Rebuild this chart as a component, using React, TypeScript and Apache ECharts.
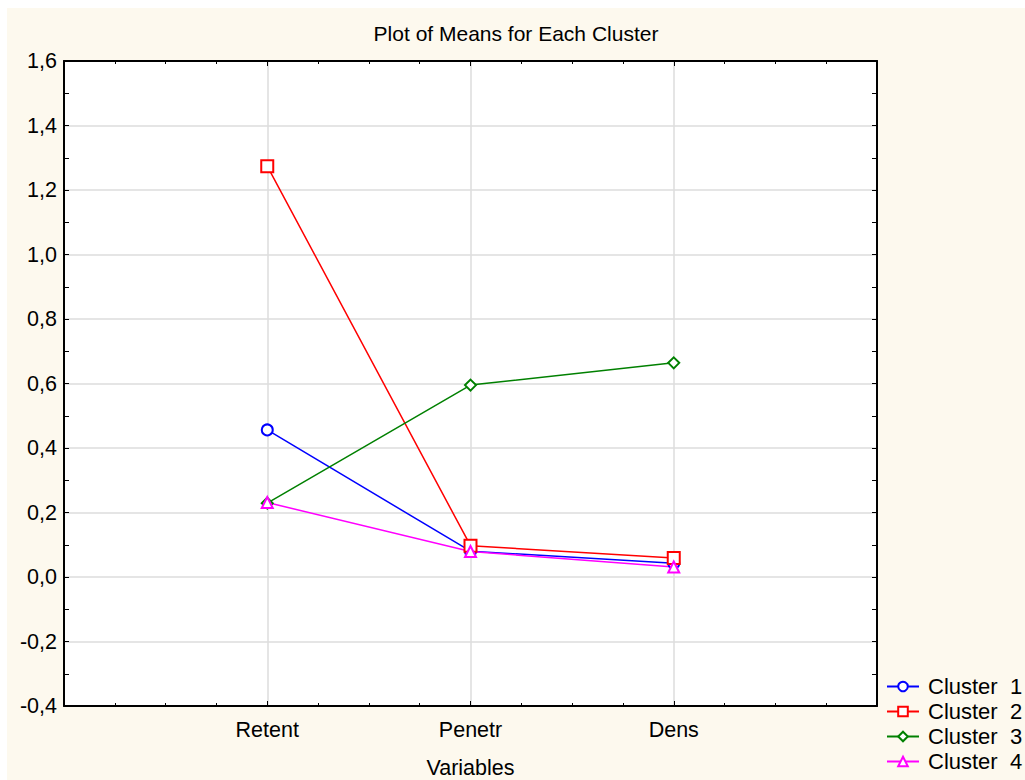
import React, { useEffect, useRef } from "react";
import * as echarts from "echarts";

const variables = ["Retent", "Penetr", "Dens"];
const cluster1 = [0.456, 0.08, 0.043];
const cluster2 = [1.274, 0.097, 0.059];
const cluster3 = [0.229, 0.595, 0.664];
const cluster4 = [0.231, 0.079, 0.031];
const seriesNames = ["Cluster  1", "Cluster  2", "Cluster  3", "Cluster  4"];
const seriesColors = ["#0000ff", "#ff0000", "#008000", "#ff00ff"];
const seriesSymbols = ["emptyCircle", "emptyRect", "emptyDiamond", "emptyTriangle"];
const yMin = -0.4;
const yMax = 1.6;

export default function App() {
  const ref = useRef<HTMLDivElement>(null);
  useEffect(() => {
    if (!ref.current) return;
    const chart = echarts.init(ref.current, null, { renderer: "svg" });
    const font = "'Liberation Sans', Arial, sans-serif";
    const fs = 21.5;
    const allData = [cluster1, cluster2, cluster3, cluster4];
    const fmtY = (v: number) => v.toFixed(1).replace(".", ",");
    const xBase = {
      type: "value" as const,
      min: 0,
      max: variables.length + 1,
      interval: 1,
    };
    const yBase = {
      type: "value" as const,
      min: yMin,
      max: yMax,
      interval: 0.2,
    };
    const line = { show: true, onZero: false, lineStyle: { color: "#000", width: 2 } };
    chart.setOption({
      animation: false,
      backgroundColor: "#fdf9ee",
      title: {
        text: "Plot of Means for Each Cluster",
        left: "center",
        top: 15,
        padding: 0,
        textStyle: { fontFamily: font, fontSize: 21, fontWeight: "normal", color: "#000" },
      },
      grid: {
        left: 57,
        top: 53,
        right: 148,
        bottom: 74,
        outerBoundsMode: "none",
        containLabel: false,
        show: true,
        backgroundColor: "#fff",
        borderWidth: 0,
      },
      legend: {
        orient: "vertical",
        left: 874,
        top: 661,
        padding: 5,
        itemWidth: 32,
        itemHeight: 12,
        itemGap: 0,
        textStyle: { fontFamily: font, fontSize: 22, color: "#000", lineHeight: 25, padding: [0, 0, 0, 4] },
        data: seriesNames,
      },
      xAxis: [
        {
          ...xBase,
          position: "bottom",
          name: "Variables",
          nameLocation: "middle",
          nameGap: 51,
          nameTextStyle: { fontFamily: font, fontSize: fs, color: "#000" },
          axisLine: line,
          axisTick: { show: true, inside: true, length: 5, lineStyle: { color: "#000" } },
          minorTick: { show: true, splitNumber: 4, length: 3, lineStyle: { color: "#000" } },
          axisLabel: {
            fontFamily: font,
            fontSize: fs,
            color: "#000",
            margin: 13,
            formatter: (v: number) => variables[v - 1] ?? "",
          },
          splitLine: { show: true, lineStyle: { color: "#dcdcdc", width: 1.5 } },
        },
        {
          ...xBase,
          position: "top",
          axisLine: line,
          axisTick: { show: true, inside: true, length: 5, lineStyle: { color: "#000" } },
          minorTick: { show: true, splitNumber: 4, length: 3, lineStyle: { color: "#000" } },
          axisLabel: { show: false },
          splitLine: { show: false },
        },
      ],
      yAxis: [
        {
          ...yBase,
          position: "left",
          axisLine: line,
          axisTick: { show: true, inside: true, length: 5, lineStyle: { color: "#000" } },
          minorTick: { show: true, splitNumber: 2, length: 5, lineStyle: { color: "#000" } },
          axisLabel: { fontFamily: font, fontSize: fs, color: "#000", margin: 7, formatter: fmtY },
          splitLine: { show: true, lineStyle: { color: "#dcdcdc", width: 1.5 } },
        },
        {
          ...yBase,
          position: "right",
          axisLine: line,
          axisTick: { show: true, inside: true, length: 5, lineStyle: { color: "#000" } },
          minorTick: { show: true, splitNumber: 2, length: 5, lineStyle: { color: "#000" } },
          axisLabel: { show: false },
          splitLine: { show: false },
        },
      ],
      series: allData.map((vals, s) => ({
        type: "line",
        name: seriesNames[s],
        xAxisIndex: 0,
        yAxisIndex: 0,
        data: vals.map((v, i) => [i + 1, v]),
        symbol: seriesSymbols[s],
        symbolSize: s === 1 ? 12 : 11,
        color: seriesColors[s],
        lineStyle: { color: seriesColors[s], width: 1.5 },
        itemStyle: { color: seriesColors[s], borderWidth: 1.5 },
      })),
    });
    return () => chart.dispose();
  }, []);
  return (
    <div
      ref={ref}
      style={{ position: "fixed", left: 7, top: 8, width: 1018, height: 772 }}
    />
  );
}
